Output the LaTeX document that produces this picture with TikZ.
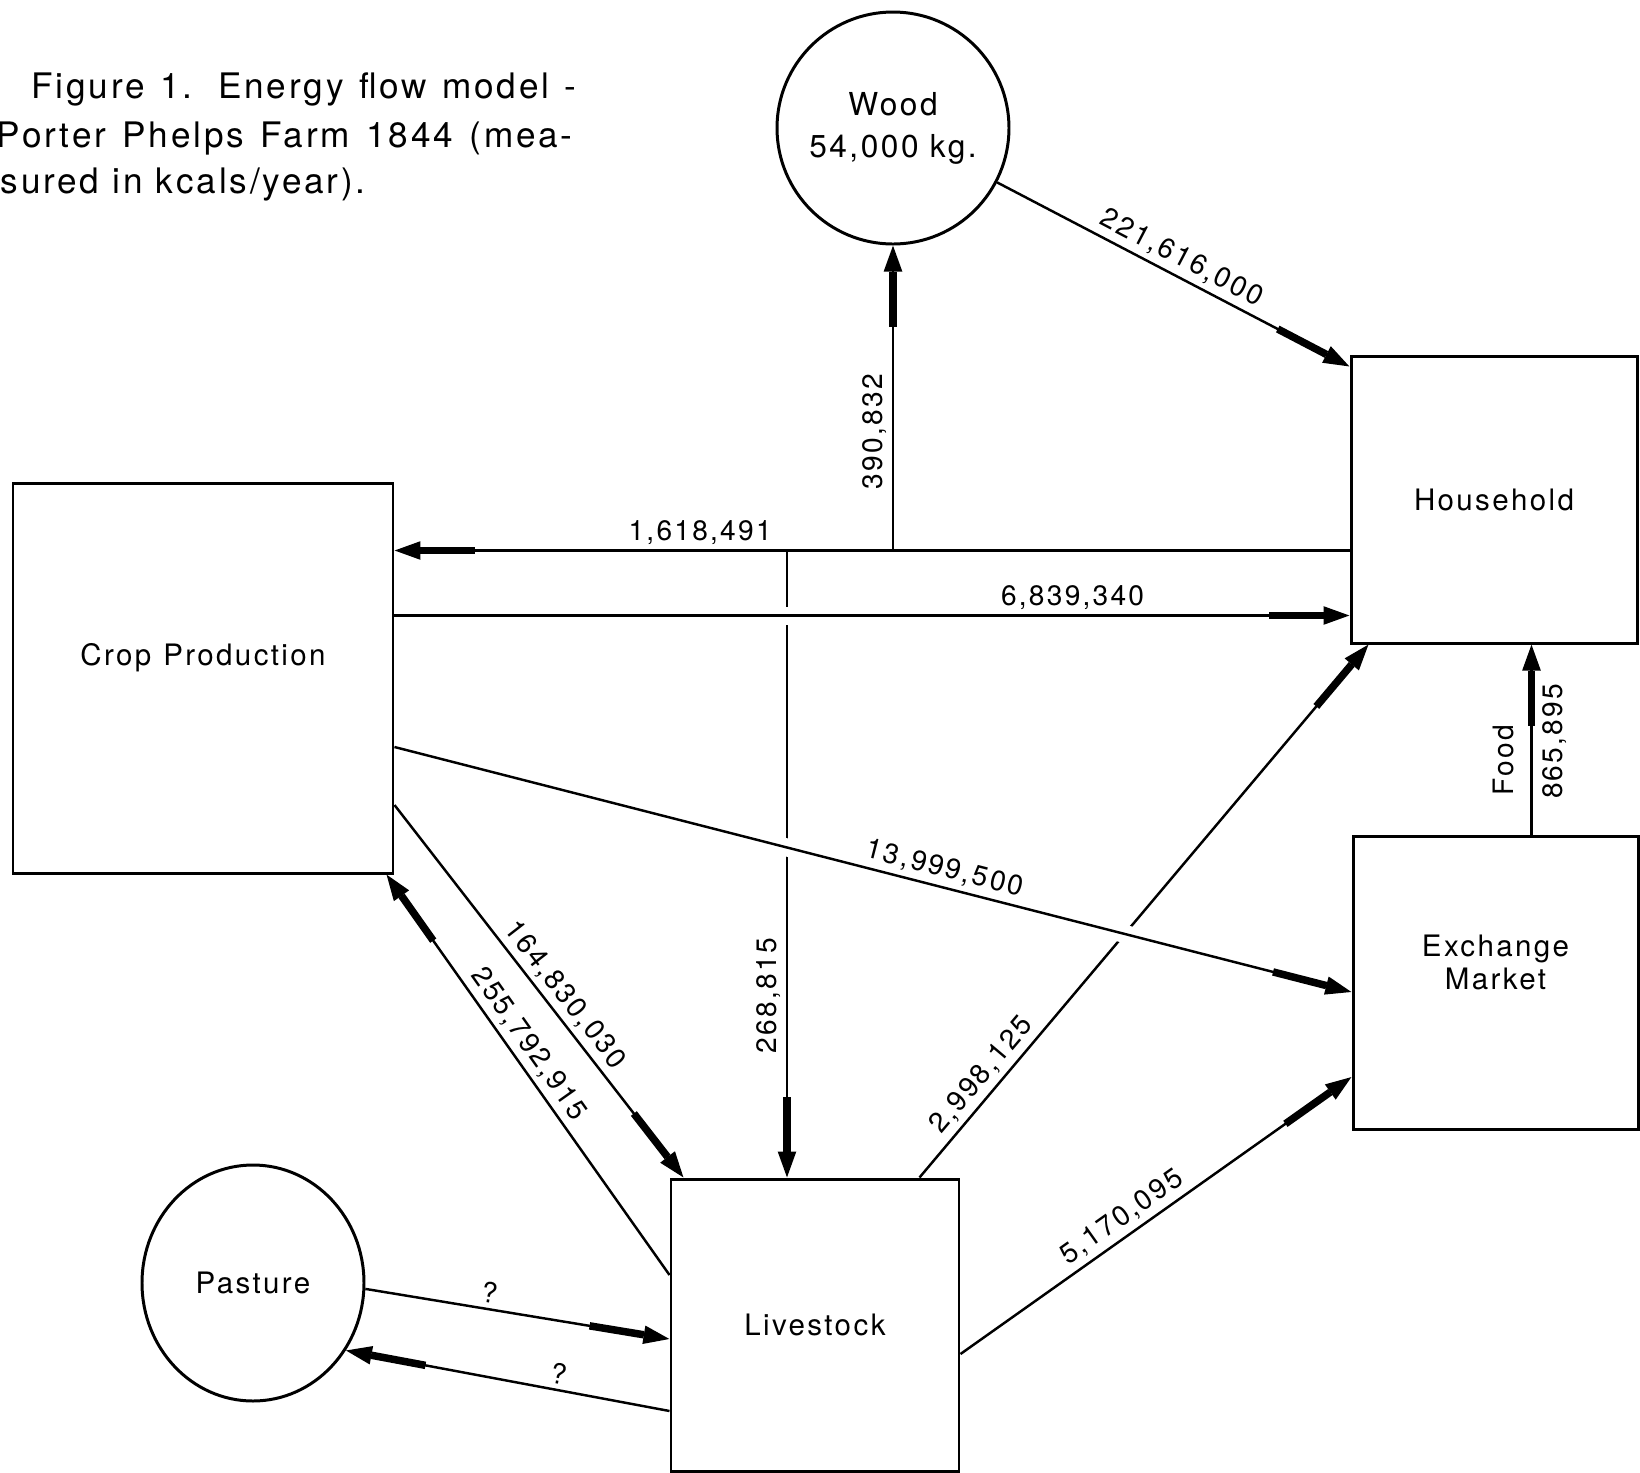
\documentclass[tikz,border=0pt]{standalone}
\usepackage{fontspec}
\setmainfont{TeX Gyre Heros}[LetterSpace=8]
\usetikzlibrary{arrows.meta,shapes.geometric,calc}

\tikzset{
  box/.style={draw, line width=0.85pt, rectangle, inner sep=0pt},
  pool/.style={draw, line width=0.85pt, circle, inner sep=0pt},
  flow/.style={line width=0.7pt, -{Rectangle[length=5.5mm,width=0.75mm,sep=0pt]Triangle[length=2.6mm,width=1.8mm,sep=0pt]}},
  bridge/.style={preaction={draw=white, line width=1.8mm, -, shorten <=9mm, shorten >=14mm}},
  num/.style={font=\fontsize{8}{9.6}\selectfont, inner sep=0.5mm},
  lbl/.style={font=\fontsize{8.4}{9.4}\selectfont, align=center},
  caption/.style={anchor=base west, inner sep=0pt, font=\fontsize{10}{12}\selectfont}
}

\begin{document}
\begin{tikzpicture}[x=0.1mm, y=-0.1mm]
\useasboundingbox (0,0) rectangle (1640,1473);

% caption
\node[caption] (cap1) at (31,98) {\makebox[54.5mm][s]{Figure 1. Energy flow model -}};
\node[caption] (cap2) at (-4,147) {\makebox[57.6mm][s]{Porter Phelps Farm 1844 (mea-}};
\node[caption] (cap3) at (0,193) {\makebox[36.5mm][s]{sured in kcals/year).}};

% stores and sectors
\node[pool, minimum size=23.2mm, lbl, font=\fontsize{9}{12}\selectfont] (wood) at (893,128) {Wood\\54,000 kg.};
\node[pool, ellipse, minimum width=22.2mm, minimum height=23.6mm, lbl] (pasture) at (253,1283) {Pasture};
\node[box, minimum width=28.6mm, minimum height=28.7mm, lbl] (household) at (1494,499.5) {Household};
\node[box, minimum width=28.5mm, minimum height=29.3mm,
  label={[lbl, name=exchangetext, yshift=2mm]center:Exchange\\Market}] (exchange) at (1495.5,982.5) {};
\node[box, minimum width=38mm, minimum height=39mm,
  label={[lbl, name=croptext, yshift=2mm]center:Crop\hspace{1.2mm}Production}] (crop) at (203,678) {};
\node[box, minimum width=28.8mm, minimum height=29.2mm, lbl] (livestock) at (815,1325) {Livestock};

\coordinate (hh1) at ([yshift=-5.1mm]household.west);
\coordinate (hh2) at ([yshift=-11.6mm]household.west);
\coordinate (lvtop) at ([xshift=-2.8mm]livestock.north);
\coordinate (fd) at ([xshift=3.6mm]exchange.north);

% lines passing under
\draw[flow] (lvtop |- hh1) -- node[num, rotate=90, above, pos=0.71] (n268) {268,815} (lvtop);
\draw[flow] ([xshift=-4.1mm]livestock.north east) -- node[num, sloped, above, pos=0.17] (n2998) {2,998,125} ([xshift=1.9mm]household.south west);

% flows
\draw[flow] (wood) -- node[num, sloped, above, pos=0.5] (n221) {221,616,000} ([yshift=-1.2mm]household.north west);
\draw[flow] (hh1) -- node[num, above, pos=0.68] (n1618) {1,618,491} (hh1 -| crop.east);
\draw[flow] (hh1 -| wood.south) -- node[num, rotate=90, above, pos=0.39] (n390) {390,832} (wood.south);
\draw[flow, bridge] (crop.east |- hh2) -- node[num, above, pos=0.71] (n6839) {6,839,340} (hh2);
\draw[flow, bridge] ([yshift=-6.9mm]crop.east) -- node[num, sloped, above, pos=0.57] (n13999) {13,999,500} ([yshift=-0.95mm]exchange.west);
\draw[flow] ([yshift=-12.7mm]crop.east) -- node[num, sloped, above, pos=0.54] (n164) {164,830,030} ([xshift=1.4mm]livestock.north west);
\draw[flow] ([yshift=5mm]livestock.west) -- node[num, sloped, above, pos=0.55] (n255) {255,792,915} ([xshift=-0.8mm]crop.south east);
\draw[flow] ([yshift=-2.9mm]livestock.east) -- node[num, sloped, above, pos=0.44] (n5170) {5,170,095} ([yshift=-9.45mm]exchange.west);
\draw[flow] (fd) -- node[num, rotate=90, above, pos=0.39, inner sep=1.6mm] (nfood) {Food}
  node[num, rotate=90, below, pos=0.49, inner sep=1mm] (n865) {865,895} (fd |- household.south);
\draw[flow] (pasture.-3) -- node[num, sloped, above, pos=0.4] (q1) {?} ([yshift=-1.4mm]livestock.west);
\draw[flow] ([yshift=-8.6mm]livestock.west) -- node[num, sloped, above, pos=0.35] (q2) {?} (pasture.-36);
\end{tikzpicture}
\end{document}
